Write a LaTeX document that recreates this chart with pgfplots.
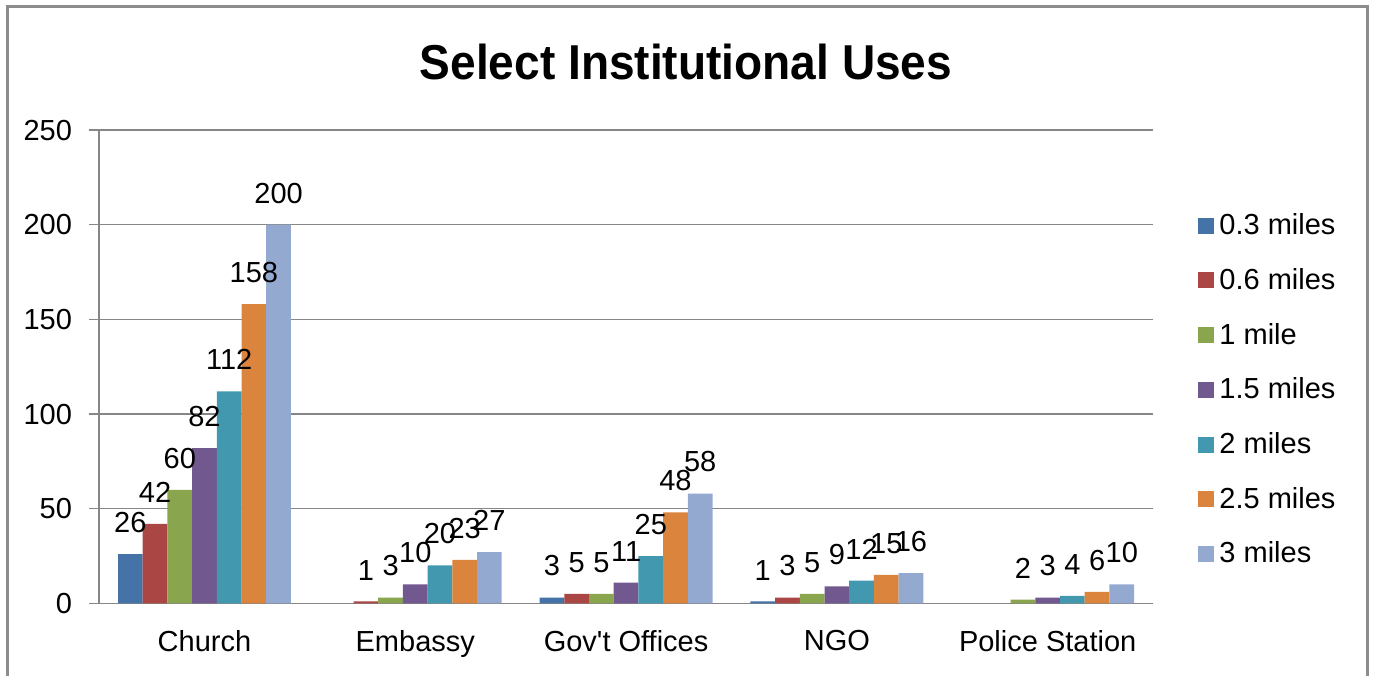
\documentclass[border=0pt]{standalone}
\usepackage{pgfplots}
\pgfplotsset{compat=1.18}
\usepackage{fontspec}
\setmainfont{Liberation Sans}
\usepackage{graphicx}
\definecolor{sA}{HTML}{4572A7}
\definecolor{sB}{HTML}{AA4643}
\definecolor{sC}{HTML}{89A54E}
\definecolor{sD}{HTML}{71588F}
\definecolor{sE}{HTML}{4198AF}
\definecolor{sF}{HTML}{DB843D}
\definecolor{sG}{HTML}{93A9CF}
\definecolor{gridgray}{HTML}{868686}
\definecolor{framegray}{HTML}{8C8C8C}
\begin{document}
\begin{tikzpicture}[x=1pt,y=1pt]
\useasboundingbox (0,0) rectangle (687,337.5);
\begin{scope}
\clip (0,0) rectangle (687,337.5);
\draw[line width=1.5pt, framegray] (3.5,-10) rectangle (683.5,334);
\end{scope}
\node[font=\fontsize{24.5}{28}\selectfont\bfseries] at (343,306.5) {\scalebox{0.94}[1]{Select Institutional Uses}};
\begin{axis}[
  at={(47,37.85)}, anchor=south west,
  scale only axis, width=527pt, height=236.65pt,
  ybar=0pt, bar width=12.35pt,
  xmin=-0.5, xmax=4.5, ymin=0, ymax=250,
  ytick={0,50,100,150,200,250},
  xtick={0,1,2,3,4},
  xticklabels={Church,Embassy,Gov\textquotesingle t Offices,NGO,Police Station},
  axis x line*=bottom, axis y line*=left,
  axis line style={-, draw=gridgray, line width=0.6pt},
  ymajorgrids, grid style={draw=gridgray, line width=0.6pt},
  xtick style={draw=none},
  ytick style={draw=gridgray, line width=0.6pt},
  tick align=outside, major tick length=5pt,
  /pgf/number format/assume math mode=true,
  tick label style={font=\fontsize{14.5}{17}\selectfont},
  yticklabel style={xshift=-5pt},
  xticklabel style={yshift=-5pt},
  every node near coord/.append style={font=\fontsize{14.5}{17}\selectfont, inner sep=0pt, yshift=10.5pt, text=black},
  nodes near coords,
  legend style={at={(1.037,0.839)}, anchor=north west, draw=none, fill=none,
    font=\fontsize{14.5}{17}\selectfont, row sep=12.35pt,
    nodes={inner sep=1.5pt}},
  legend cell align=left,
  legend image code/.code={\fill[#1] (0pt,-4pt) rectangle (8pt,4pt); \path (9pt,0pt);},
]
\addplot[fill=sA, draw=none] coordinates {(0,26) (2,3) (3,1)};
\addplot[fill=sB, draw=none] coordinates {(0,42) (1,1) (2,5) (3,3)};
\addplot[fill=sC, draw=none] coordinates {(0,60) (1,3) (2,5) (3,5) (4,2)};
\addplot[fill=sD, draw=none] coordinates {(0,82) (1,10) (2,11) (3,9) (4,3)};
\addplot[fill=sE, draw=none] coordinates {(0,112) (1,20) (2,25) (3,12) (4,4)};
\addplot[fill=sF, draw=none] coordinates {(0,158) (1,23) (2,48) (3,15) (4,6)};
\addplot[fill=sG, draw=none] coordinates {(0,200) (1,27) (2,58) (3,16) (4,10)};
\legend{0.3 miles,0.6 miles,1 mile,1.5 miles,2 miles,2.5 miles,3 miles}
\end{axis}
\end{tikzpicture}
\end{document}
